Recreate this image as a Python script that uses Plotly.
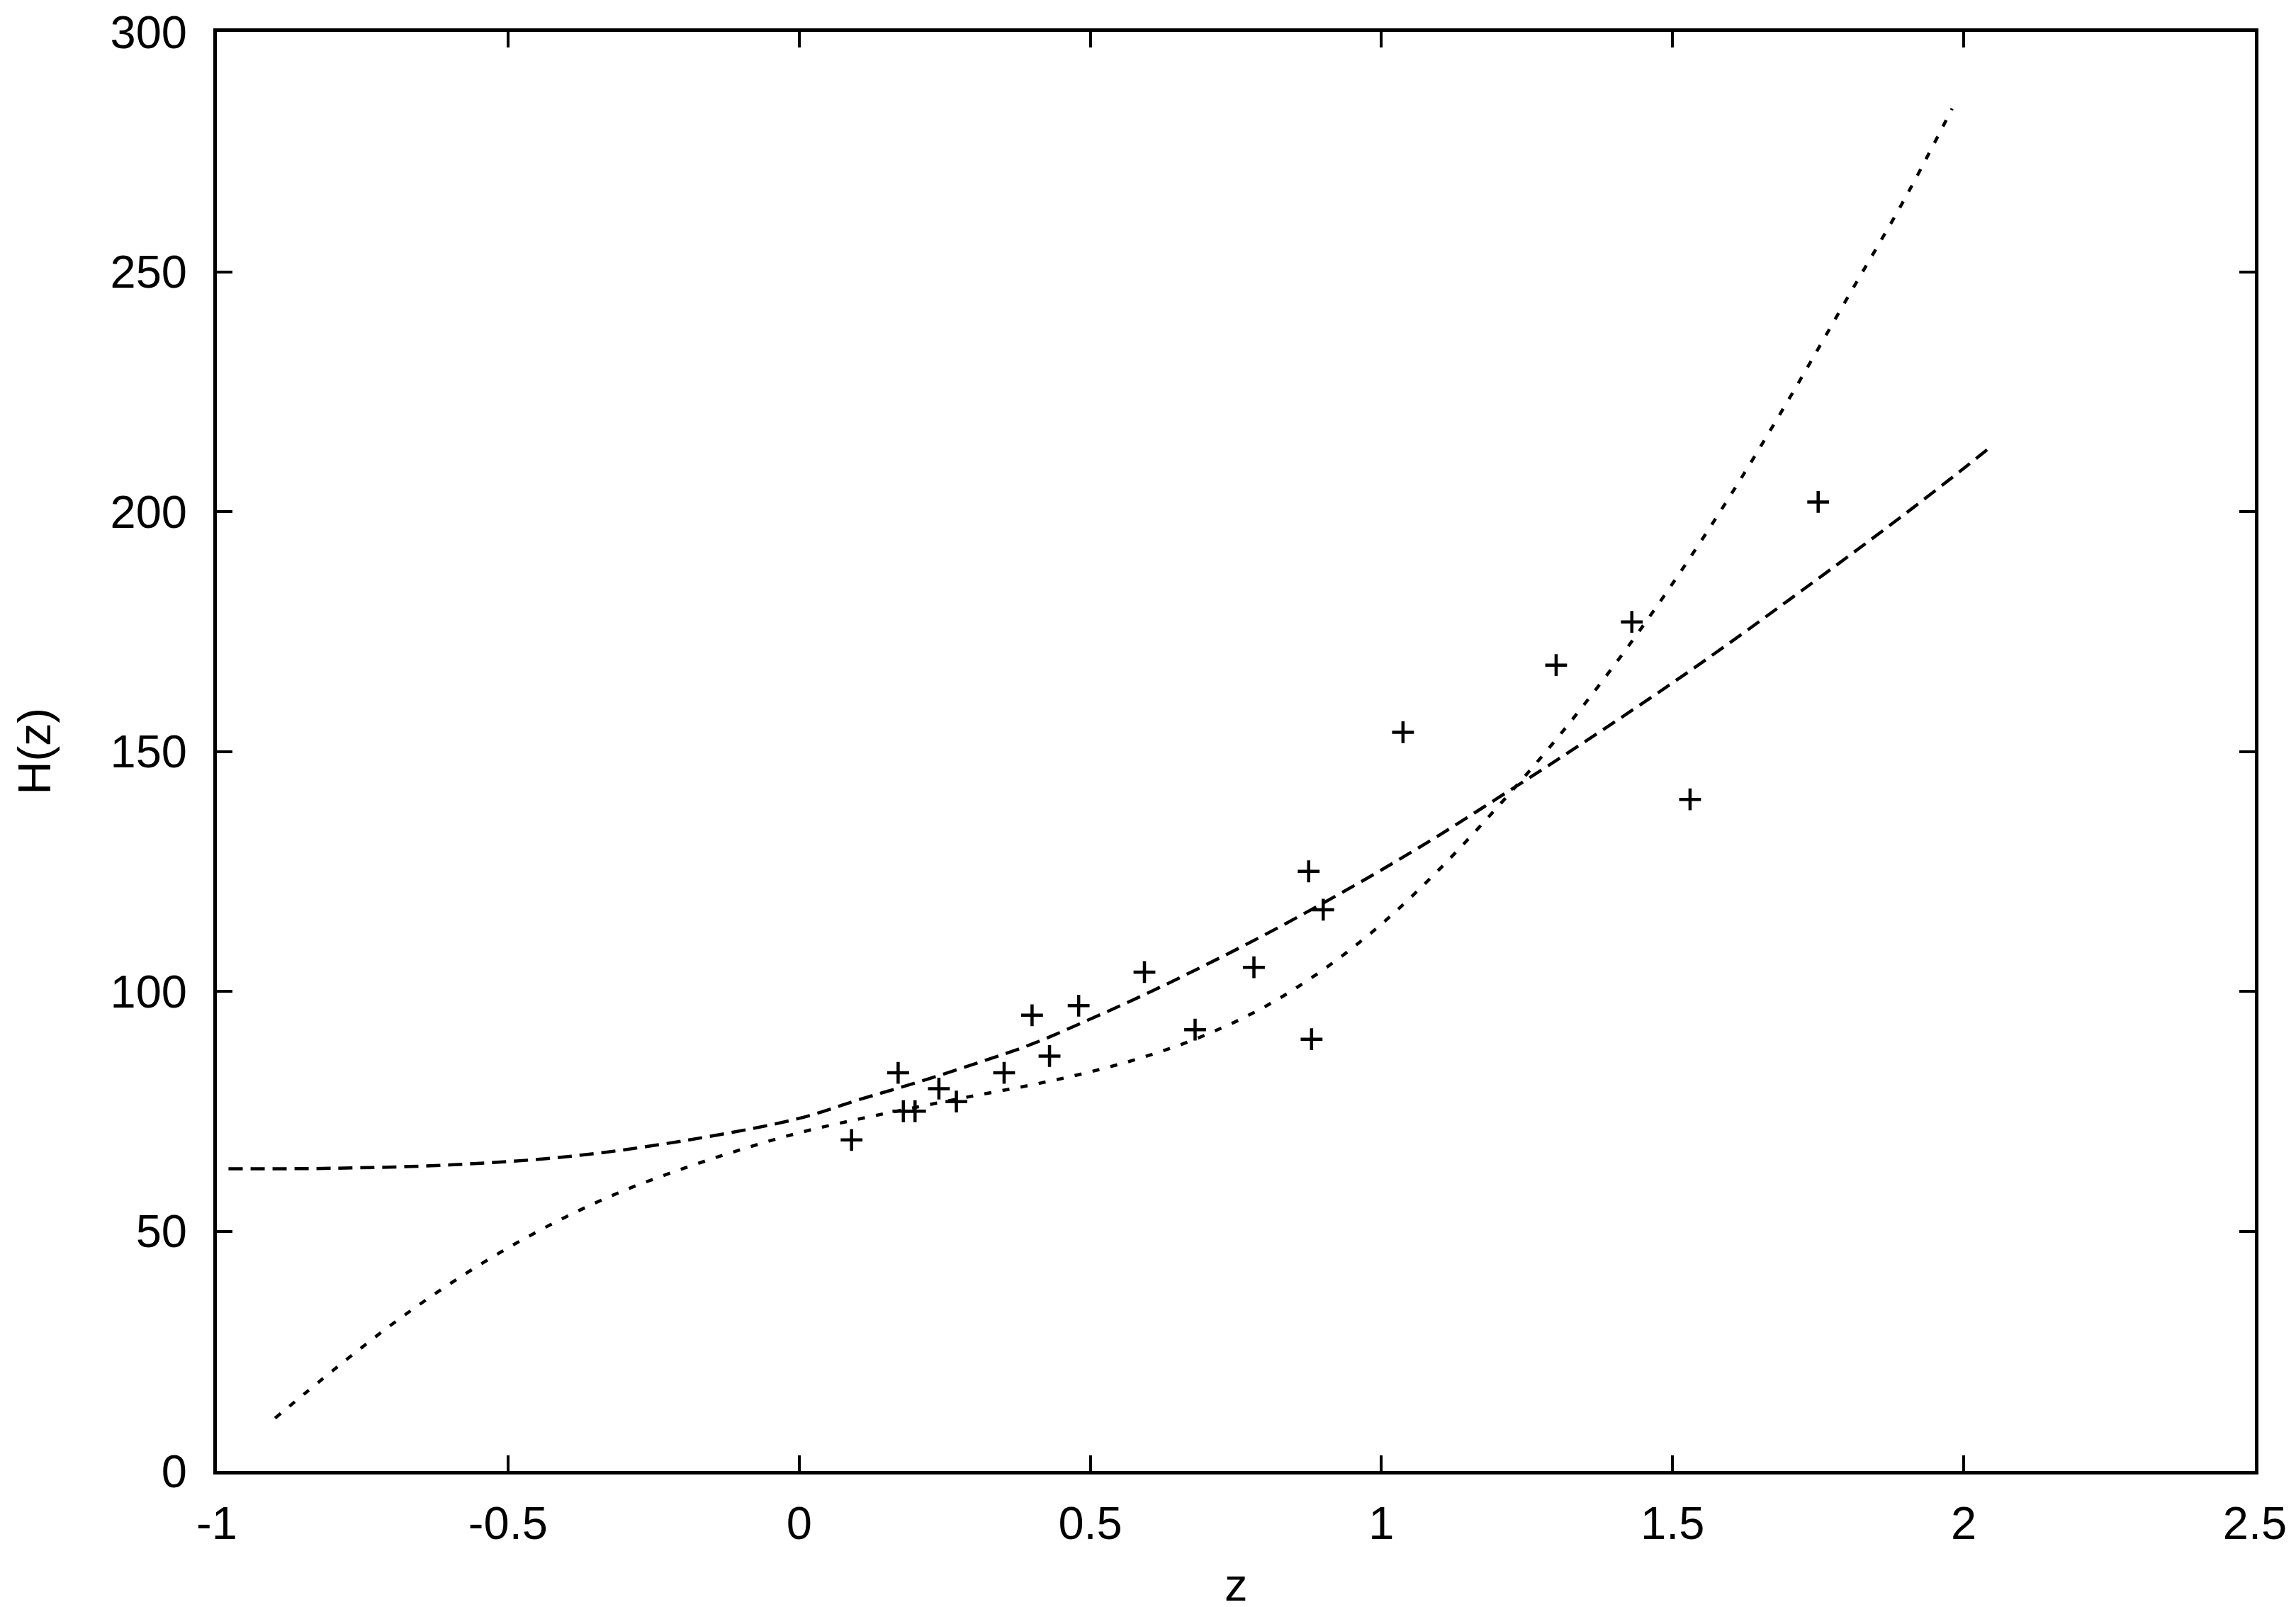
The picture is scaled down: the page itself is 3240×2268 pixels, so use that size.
import plotly.graph_objects as go

# Observed H(z) data points
z_obs = [0.09, 0.17, 0.179, 0.199, 0.24, 0.27, 0.352, 0.40, 0.43, 0.48, 0.593,
         0.68, 0.781, 0.875, 0.88, 0.90, 1.037, 1.30, 1.43, 1.53, 1.75]
H_obs = [69, 83, 75, 75, 79.7, 77, 83, 95, 86.5, 97, 104,
         92, 105, 125, 90, 117, 154, 168, 177, 140, 202]

# Long-dashed curve
z_long = [-0.98, -0.80, -0.60, -0.40, -0.20, 0.00, 0.10, 0.20, 0.30, 0.40, 0.50,
          0.60, 0.70, 0.80, 0.90, 1.00, 1.10, 1.20, 1.30, 1.40, 1.50, 1.60,
          1.70, 1.80, 1.90, 2.00, 2.04]
H_long = [63.0, 63.1, 63.8, 65.5, 68.8, 73.5, 77.3, 80.9, 84.8, 89.0, 94.2,
          99.7, 105.6, 111.8, 118.4, 125.3, 132.6, 140.3, 148.1, 156.1, 164.3, 172.8,
          181.6, 190.5, 199.6, 209.0, 212.9]

# Short-dashed curve
z_short = [-0.90, -0.80, -0.70, -0.60, -0.50, -0.40, -0.30, -0.20, -0.10, 0.00,
           0.10, 0.20, 0.30, 0.40, 0.50, 0.60, 0.70, 0.80, 0.90, 1.00, 1.10,
           1.20, 1.30, 1.40, 1.50, 1.60, 1.70, 1.80, 1.90, 1.98]
H_short = [11.0, 21.0, 30.5, 39.0, 46.5, 53.0, 58.5, 63.0, 67.0, 70.5,
           73.3, 75.8, 78.2, 80.5, 83.2, 86.6, 91.0, 96.8, 104.5, 114.0, 125.5,
           138.5, 152.5, 168.0, 185.0, 203.5, 223.5, 244.5, 265.5, 284.0]

x_ticks = [-1, -0.5, 0, 0.5, 1, 1.5, 2, 2.5]
x_tick_text = ["-1", "-0.5", "0", "0.5", "1", "1.5", "2", "2.5"]
y_ticks = [0, 50, 100, 150, 200, 250, 300]
x_title = "z"
y_title = "H(z)"

FONT = "Liberation Sans, Arial, Helvetica, sans-serif"

fig = go.Figure()
fig.add_trace(go.Scatter(x=z_long, y=H_long, mode="lines", line_shape="spline",
                         line=dict(color="black", width=4.5, dash="20px,11px"),
                         showlegend=False, hoverinfo="skip"))
fig.add_trace(go.Scatter(x=z_short, y=H_short, mode="lines", line_shape="spline",
                         line=dict(color="black", width=4.5, dash="10px,16px"),
                         showlegend=False, hoverinfo="skip"))
fig.add_trace(go.Scatter(x=z_obs, y=H_obs, mode="markers",
                         marker=dict(symbol="cross-thin", size=22,
                                     line=dict(color="black", width=4.5)),
                         showlegend=False))

axis_common = dict(showgrid=False, zeroline=False, showline=True, linecolor="black",
                   linewidth=5, mirror="ticks", ticks="inside", ticklen=22,
                   tickwidth=4, tickcolor="black",
                   tickfont=dict(family=FONT, size=65, color="black"))

fig.update_xaxes(range=[-1, 2.5], tickvals=x_ticks, ticktext=x_tick_text,
                 ticklabelstandoff=13, **axis_common)
fig.update_yaxes(range=[0, 300], tickvals=y_ticks,
                 ticklabelstandoff=24, **axis_common)

# axis titles
fig.add_annotation(text=x_title, xref="paper", yref="paper", x=0.5, y=0,
                   xanchor="center", yanchor="middle", yshift=-160, showarrow=False,
                   font=dict(family=FONT, size=65, color="black"))
fig.add_annotation(text=y_title, xref="paper", yref="paper", x=0, y=0.5,
                   xanchor="center", yanchor="middle", xshift=-258, textangle=-90,
                   showarrow=False, font=dict(family=FONT, size=65, color="black"))

fig.update_layout(width=3240, height=2268,
                  margin=dict(l=298, r=66, t=37, b=200, autoexpand=False),
                  paper_bgcolor="white", plot_bgcolor="white",
                  font=dict(family=FONT, size=65, color="black"))

fig.write_html("out.html")
